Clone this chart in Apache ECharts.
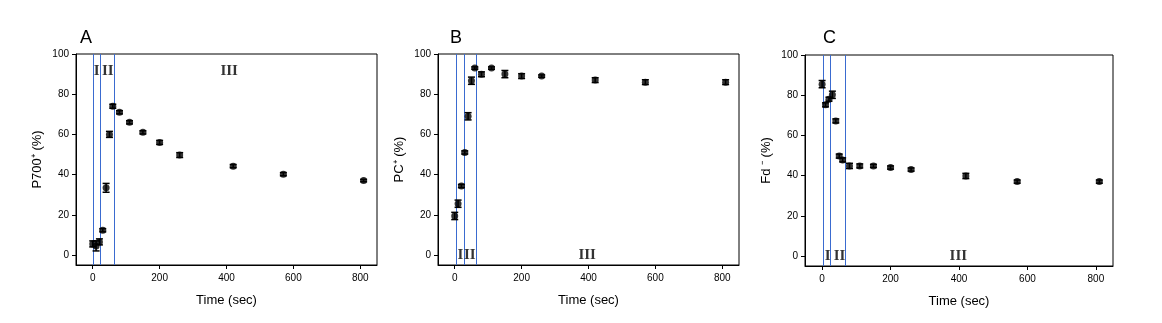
<!DOCTYPE html>
<html><head><meta charset="utf-8">
<script src="https://cdn.jsdelivr.net/npm/echarts@6/dist/echarts.min.js"></script>
<style>html,body{margin:0;padding:0;background:#fff}#c{width:1162px;height:323px}</style>
</head><body><div id="c"></div>
<script>
const times = [0,10,20,30,40,50,60,80,110,150,200,260,420,570,810];
const p700 = [5.5,4.5,6.5,12.3,33.4,60,74,71,66,61,56,49.7,44.2,40.2,37];
const p700Err = [1.5,2.5,1.5,0.8,2.2,1.5,1,0.8,0.8,0.8,1,1.2,0.8,0.8,0.6];
const pc = [19.4,25.5,34.3,51,69,86.7,93,89.9,93,90,89,89,87,86,86];
const pcErr = [1.8,1.8,0.8,0.8,1.8,1.8,0.6,1.2,0.6,1.8,1.2,0.6,1.2,1.2,1.2];
const fd = [85.5,75.2,78,80.2,67.2,49.7,47.8,44.8,44.8,44.8,44,43,39.8,37,37];
const fdErr = [1.8,1,1,1.8,1,1,1,1.3,1,0.8,0.8,0.8,1.3,0.8,0.8];
const panelLetters = ['A','B','C'];
const yNames = ['P700\u207A (%)','PC\u207A (%)','Fd \u207B (%)'];
const xName = 'Time (sec)';
const xTicks = [0,200,400,600,800];
const yTicks = [0,20,40,60,80,100];
const phaseLines = [[0,21,63],[3,27,63],[3,23,68]];
const regionText = ['I','II','III'];
const regionX = [[12,45,408],[17,45,396],[16,51,398]];
const regionY = [91.4,0,0];

const series = [p700, pc, fd];
const errs = [p700Err, pcErr, fdErr];
const grids = [
  {left:76, top:54, width:301, height:211},
  {left:438, top:54, width:301, height:211},
  {left:805, top:55, width:308, height:211}
];
const letterPos = [[80,29],[450,29],[823,29]];
const SANS = "'Liberation Sans', Arial, sans-serif";
const SERIF = "'Liberation Serif', 'Times New Roman', serif";

const option = {
  animation:false,
  backgroundColor:'#fff',
  title: panelLetters.map((t,i)=>({text:t,left:letterPos[i][0],top:letterPos[i][1],padding:0,
    textStyle:{fontFamily:SANS,fontSize:18,fontWeight:'normal',color:'#000'}})),
  grid: grids.map(g=>Object.assign({show:true,borderColor:'#000',borderWidth:1,containLabel:false},g)),
  xAxis: grids.map((g,i)=>({type:'value',gridIndex:i,min:-50,max:850,
    name:xName,nameLocation:'middle',nameGap:29,
    nameTextStyle:{fontFamily:SANS,fontSize:13,color:'#000'},
    axisLine:{show:true,onZero:false,lineStyle:{color:'#000',width:1}},
    axisTick:{show:true,length:4,customValues:xTicks,lineStyle:{color:'#000'}},
    axisLabel:{customValues:xTicks,fontFamily:SANS,fontSize:10,color:'#000',margin:8},
    splitLine:{show:false}})),
  yAxis: grids.map((g,i)=>({type:'value',gridIndex:i,min:-5,max:100,
    name:yNames[i],nameLocation:'middle',nameGap:32,
    nameTextStyle:{fontFamily:SANS,fontSize:13,color:'#000'},
    axisLine:{show:true,onZero:false,lineStyle:{color:'#000',width:1}},
    axisTick:{show:true,length:4,customValues:yTicks,lineStyle:{color:'#000'}},
    axisLabel:{customValues:yTicks,fontFamily:SANS,fontSize:10,color:'#000',margin:7},
    splitLine:{show:false}})),
  series: []
};

for (let i=0;i<3;i++){
  // phase lines
  option.series.push({type:'custom',xAxisIndex:i,yAxisIndex:i,silent:true,
    data:phaseLines[i].map(v=>[v]),
    renderItem:function(params,api){
      const p=api.coord([api.value(0),0]);
      const cs=params.coordSys;
      const x=Math.round(p[0])+0.5;
      return {type:'line',shape:{x1:x,y1:cs.y,x2:x,y2:cs.y+cs.height},
        style:{stroke:'#3a6bd0',lineWidth:1}};
    },z:2});
  // region labels
  option.series.push({type:'scatter',xAxisIndex:i,yAxisIndex:i,symbolSize:0,silent:true,
    data:regionText.map((t,k)=>({name:t,value:[regionX[i][k],regionY[i]]})),
    label:{show:true,position:'inside',formatter:'{b}',fontFamily:SERIF,fontSize:15,fontWeight:'bold',color:'#000'},z:5});
  // error bars
  option.series.push({type:'custom',xAxisIndex:i,yAxisIndex:i,
    data:times.map((t,k)=>[t,series[i][k],errs[i][k]]),
    renderItem:function(params,api){
      const x=api.value(0), y=api.value(1), e=api.value(2);
      const lo=api.coord([x,y-e]), hi=api.coord([x,y+e]);
      const w=3.5, st={stroke:'#000',lineWidth:1.5};
      return {type:'group',children:[
        {type:'line',shape:{x1:lo[0],y1:lo[1],x2:hi[0],y2:hi[1]},style:st},
        {type:'line',shape:{x1:lo[0]-w,y1:lo[1],x2:lo[0]+w,y2:lo[1]},style:st},
        {type:'line',shape:{x1:hi[0]-w,y1:hi[1],x2:hi[0]+w,y2:hi[1]},style:st}
      ]};
    },z:3});
  // points
  option.series.push({type:'scatter',xAxisIndex:i,yAxisIndex:i,symbol:'circle',symbolSize:7,
    itemStyle:{color:'#000'},data:times.map((t,k)=>[t,series[i][k]]),z:4});
}

const chart = echarts.init(document.getElementById('c'),null,{renderer:'canvas'});
chart.setOption(option);
</script></body></html>
